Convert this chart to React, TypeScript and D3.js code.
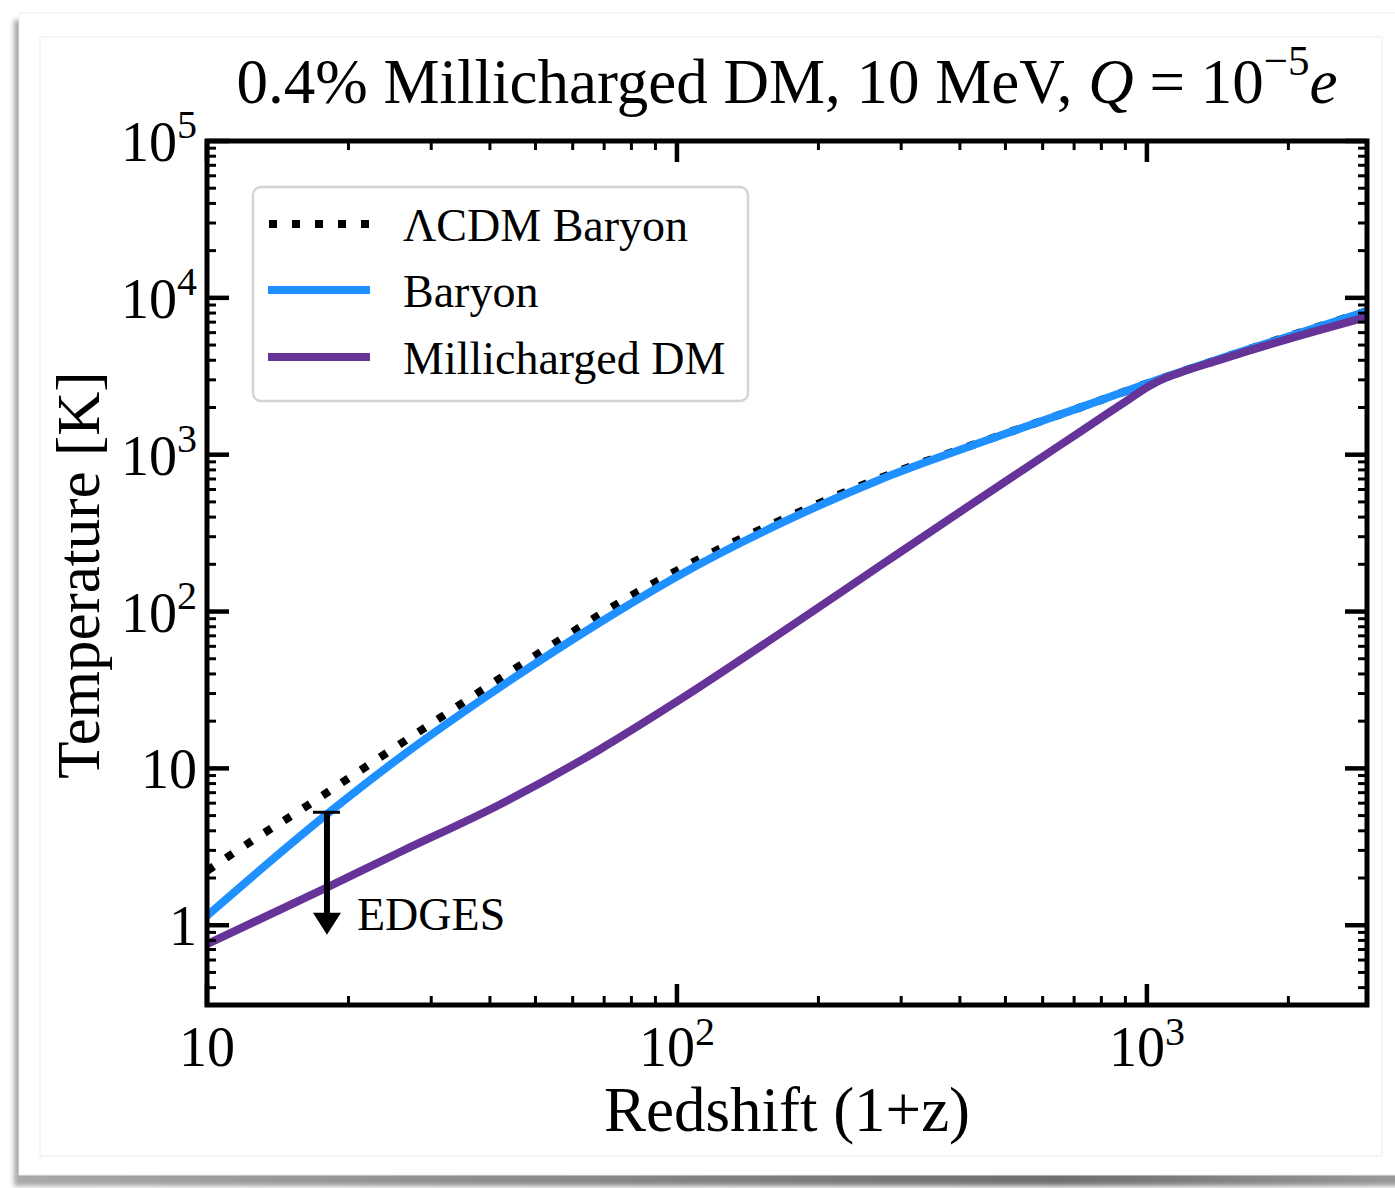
import React from "react";
import * as d3 from "d3";

// values (1+z, temperature in K)
const lcdmRedshift = [10, 12.59, 15.85, 19.95, 25.12, 31.62, 42, 56.4, 75.7, 105, 165.6, 270, 441, 720, 1014, 1656, 2940];
const lcdmTemp = [2.22, 3.52, 5.45, 8.6, 13.6, 21.4, 37.5, 66, 114.8, 197, 380, 708, 1197, 1995, 2884, 4732, 8222];

const baryonRedshift = [10, 12.6, 17.7, 25.7, 42, 68.5, 101.6, 165.6, 270, 441, 720, 1014, 1656, 2940];
const baryonTemp = [1.15, 2.09, 4.9, 11.7, 32.9, 85.1, 171.8, 363, 693, 1191, 1995, 2884, 4732, 8222];

const dmRedshift = [10, 17.7, 25.7, 42, 68.5, 101.6, 165.6, 270, 441, 653, 794, 902, 1014, 1096, 1194, 1413, 1656, 2208, 2940];
const dmTemp = [0.757, 1.7, 2.92, 5.89, 13.2, 27.5, 72.4, 195, 525, 1148, 1698, 2188, 2754, 3090, 3388, 3981, 4624, 5957, 7568];

// EDGES upper limit arrow
const edgesRedshift = 18;
const edgesTop = 5.25;
const edgesTip = 0.87;

const legendLabels = ["\u039BCDM Baryon", "Baryon", "Millicharged DM"];
const xTickValues = [10, 100, 1000];
const xTickLabels = [["10", ""], ["10", "2"], ["10", "3"]];
const yTickValues = [1, 10, 100, 1000, 1e4, 1e5];
const yTickLabels = [["1", ""], ["10", ""], ["10", "2"], ["10", "3"], ["10", "4"], ["10", "5"]];

const BLUE = "#1E90FF";
const PURPLE = "#663399";
const FONT = "'Liberation Serif', 'DejaVu Serif', serif";

const W = 1395;
const H = 1188;
const left = 207, right = 1367, top = 141, bottom = 1005;

export default function App() {
  const x = d3.scaleLog().domain([10, 2940]).range([left, right]);
  const y = d3.scaleLog().domain([0.31, 1e5]).range([bottom, top]);

  const line = d3
    .line<[number, number]>()
    .x((d) => x(d[0]))
    .y((d) => y(d[1]))
    .curve(d3.curveMonotoneX);

  const zip = (a: number[], b: number[]) => a.map((v, i) => [v, b[i]] as [number, number]);

  const xMinor = x.ticks().filter((t) => !xTickValues.includes(t));
  const yMinor = y.ticks().filter((t) => !yTickValues.includes(t) && t >= 0.31);

  const ex = x(edgesRedshift);

  const legendRows = [224, 290, 357];

  return (
    <svg
      width={W}
      height={H}
      style={{ position: "absolute", left: 0, top: 0, background: "#fff" }}
      fontFamily={FONT}
    >
      <defs>
        <filter id="blur" x="-5%" y="-5%" width="110%" height="110%">
          <feGaussianBlur stdDeviation="2.5" />
        </filter>
        <linearGradient id="shade" x1="0" x2="1" y1="0" y2="0">
          <stop offset="0" stopColor="#a8a8a8" />
          <stop offset="0.75" stopColor="#6e6e6e" />
          <stop offset="1" stopColor="#9a9a9a" />
        </linearGradient>
      </defs>

      {/* card with shadow */}
      <rect x={14} y={20} width={1390} height={1166} fill="url(#shade)" filter="url(#blur)" />
      <rect x={19} y={13} width={1380} height={1162} fill="#fff" stroke="#ececec" strokeWidth={1} />
      <rect x={40} y={37} width={1342} height={1119} fill="#fff" stroke="#f2f2f2" strokeWidth={1.5} />

      {/* title */}
      <text x={787} y={103} fontSize={63} textAnchor="middle">
        {"0.4% Millicharged DM, 10 MeV, "}
        <tspan fontStyle="italic">Q</tspan>
        {" = 10"}
        <tspan dy={-28} fontSize={43}>{"\u22125"}</tspan>
        <tspan dy={28} fontStyle="italic">e</tspan>
      </text>

      {/* curves */}
      <g fill="none">
        <path d={line(zip(lcdmRedshift, lcdmTemp)) || ""} stroke="#000" strokeWidth={8} strokeDasharray="8 15" />
        <path d={line(zip(baryonRedshift, baryonTemp)) || ""} stroke={BLUE} strokeWidth={8} />
        <path d={line(zip(dmRedshift, dmTemp)) || ""} stroke={PURPLE} strokeWidth={8} />
      </g>

      {/* EDGES */}
      <line x1={ex - 14} x2={ex + 13} y1={y(edgesTop)} y2={y(edgesTop)} stroke="#000" strokeWidth={3} />
      <line x1={ex} x2={ex} y1={y(edgesTop)} y2={y(edgesTip) - 18} stroke="#000" strokeWidth={6} />
      <path
        d={`M${ex - 14},${y(edgesTip) - 22} L${ex + 14},${y(edgesTip) - 22} L${ex},${y(edgesTip)} Z`}
        fill="#000"
      />
      <text x={357} y={930} fontSize={46}>EDGES</text>

      {/* ticks, all four sides, inward */}
      <g stroke="#000">
        {xTickValues.map((t) => (
          <g key={"xM" + t}>
            <line x1={x(t)} x2={x(t)} y1={bottom} y2={bottom - 21} strokeWidth={4.5} />
            <line x1={x(t)} x2={x(t)} y1={top} y2={top + 21} strokeWidth={4.5} />
          </g>
        ))}
        {xMinor.map((t) => (
          <g key={"xm" + t}>
            <line x1={x(t)} x2={x(t)} y1={bottom} y2={bottom - 9} strokeWidth={3} />
            <line x1={x(t)} x2={x(t)} y1={top} y2={top + 9} strokeWidth={3} />
          </g>
        ))}
        {yTickValues.map((t) => (
          <g key={"yM" + t}>
            <line x1={left} x2={left + 22} y1={y(t)} y2={y(t)} strokeWidth={4.5} />
            <line x1={right} x2={right - 22} y1={y(t)} y2={y(t)} strokeWidth={4.5} />
          </g>
        ))}
        {yMinor.map((t) => (
          <g key={"ym" + t}>
            <line x1={left} x2={left + 9} y1={y(t)} y2={y(t)} strokeWidth={3} />
            <line x1={right} x2={right - 9} y1={y(t)} y2={y(t)} strokeWidth={3} />
          </g>
        ))}
      </g>

      {/* frame */}
      <rect x={left} y={top} width={right - left} height={bottom - top} fill="none" stroke="#000" strokeWidth={5} />

      {/* tick labels */}
      {xTickValues.map((t, i) => (
        <text key={"xl" + t} x={x(t)} y={1066} fontSize={56} textAnchor="middle">
          {xTickLabels[i][0]}
          {xTickLabels[i][1] && (
            <tspan dy={-21} fontSize={40}>{xTickLabels[i][1]}</tspan>
          )}
        </text>
      ))}
      {yTickValues.map((t, i) => (
        <text key={"yl" + t} x={197} y={y(t) + 20} fontSize={56} textAnchor="end">
          {yTickLabels[i][0]}
          {yTickLabels[i][1] && (
            <tspan dy={-23} fontSize={40}>{yTickLabels[i][1]}</tspan>
          )}
        </text>
      ))}

      {/* axis labels */}
      <text x={787} y={1131} fontSize={63} textAnchor="middle">Redshift (1+z)</text>
      <text transform="translate(99,575) rotate(-90)" fontSize={61} textAnchor="middle">Temperature [K]</text>

      {/* legend */}
      <rect x={253} y={187} width={495} height={214} rx={8} fill="#fff" stroke="#d4d4d4" strokeWidth={2.5} />
      <line x1={269} x2={370} y1={legendRows[0]} y2={legendRows[0]} stroke="#000" strokeWidth={8} strokeDasharray="8 15" />
      <line x1={268} x2={370} y1={legendRows[1]} y2={legendRows[1]} stroke={BLUE} strokeWidth={8} />
      <line x1={268} x2={370} y1={legendRows[2]} y2={legendRows[2]} stroke={PURPLE} strokeWidth={8} />
      {legendLabels.map((s, i) => (
        <text key={s} x={403} y={legendRows[i] + 17} fontSize={46}>{s}</text>
      ))}
    </svg>
  );
}
